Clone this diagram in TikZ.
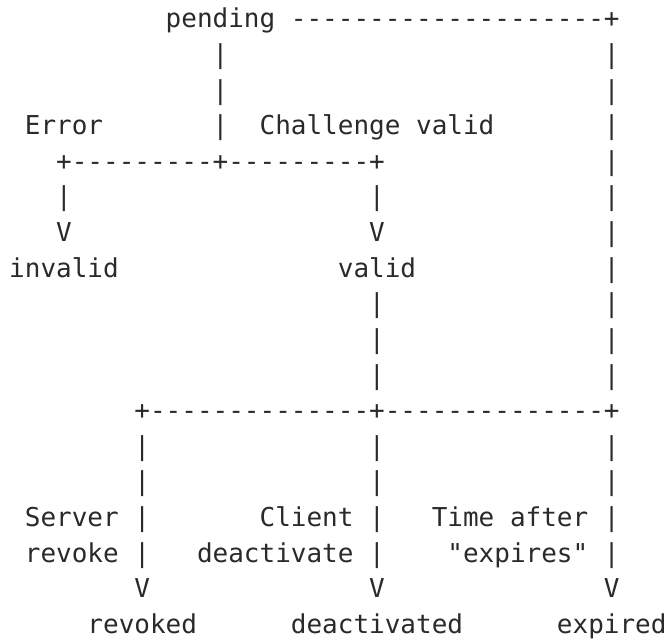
\documentclass[tikz,border=0pt]{standalone}
\usepackage{fontspec}
\setmonofont{DejaVu Sans Mono}
\definecolor{inkgray}{HTML}{2A2A2A}
\tikzset{
	glyph/.style={font=\ttfamily\fontsize{13pt}{17.8pt}\selectfont, text=inkgray, inner sep=0pt, outer sep=0pt, anchor=base west},
	state/.style={glyph},
}
\begin{document}
\begin{tikzpicture}
	\useasboundingbox (0pt,0pt) rectangle (334pt,-320.5pt);
	\begin{scope}[shift={(4.6pt,-14pt)}, x={(7.825pt,0pt)}, y={(0pt,-17.8pt)}]
		% states
		\node[state] (pending) at (10,0) {pending};
		\node[state] (invalid) at (0,7) {invalid};
		\node[state] (valid) at (21,7) {valid};
		\node[state] (revoked) at (5,17) {revoked};
		\node[state] (deactivated) at (18,17) {deactivated};
		\node[state] (expired) at (35,17) {expired};
		
		% transition labels
		\node[glyph] (errlbl) at (1,3) {Error};
		\node[glyph] (chlbl) at (16,3) {Challenge valid};
		\node[glyph] (srvlbl) at (1,14) {Server};
		\node[glyph] (srvlblb) at (1,15) {revoke};
		\node[glyph] (clilbl) at (16,14) {Client};
		\node[glyph] (clilblb) at (12,15) {deactivate};
		\node[glyph] (timelbl) at (27,14) {Time after};
		\node[glyph] (timelblb) at (28,15) {"expires"};
		
		% vertical runs
		\foreach \c/\a/\b in {13/1/3, 38/1/10, 38/12/15, 3/5/5, 23/5/5, 23/8/10, 23/12/15, 8/12/15}{
			\foreach \r in {\a,...,\b}
				\node[glyph] at (\c,\r) {|};
		}
		% horizontal runs
		\foreach \r/\a/\b in {0/18/37, 4/4/12, 4/14/22, 11/9/22, 11/24/37}{
			\foreach \c in {\a,...,\b}
				\node[glyph] at (\c,\r) {-};
		}
		% junctions and arrow heads
		\foreach \c/\r/\g in {38/0/+, 3/4/+, 13/4/+, 23/4/+, 8/11/+, 23/11/+, 38/11/+,
			3/6/V, 23/6/V, 8/16/V, 23/16/V, 38/16/V}{
			\node[glyph] (j\c-\r) at (\c,\r) {\g};
		}
	\end{scope}
\end{tikzpicture}
\end{document}
